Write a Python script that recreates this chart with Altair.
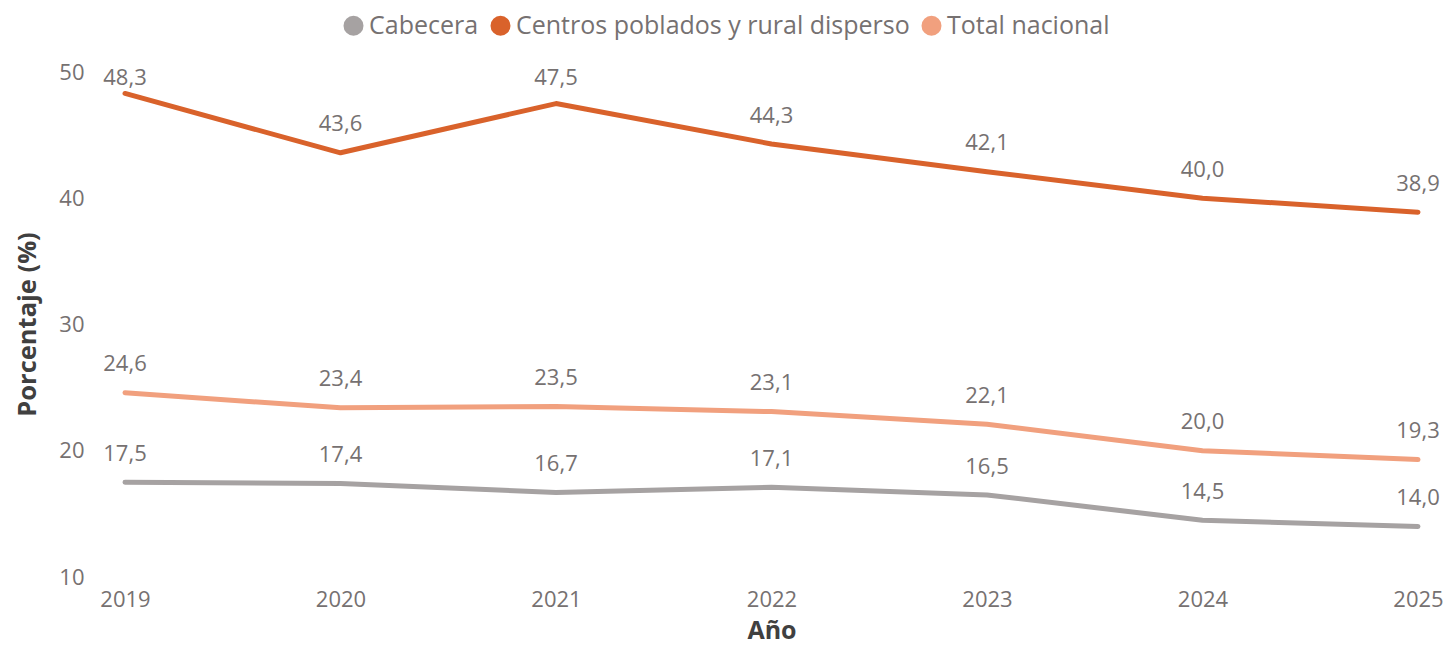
import altair as alt
import pandas as pd

years = [2019, 2020, 2021, 2022, 2023, 2024, 2025]
cabecera = [17.5, 17.4, 16.7, 17.1, 16.5, 14.5, 14.0]
centros = [48.3, 43.6, 47.5, 44.3, 42.1, 40.0, 38.9]
total = [24.6, 23.4, 23.5, 23.1, 22.1, 20.0, 19.3]
series_names = ["Cabecera", "Centros poblados y rural disperso", "Total nacional"]
colors = ["#A6A2A2", "#D9622B", "#F1A07E"]

rows = []
for name, vals in zip(series_names, [cabecera, centros, total]):
    for y, v in zip(years, vals):
        rows.append({"Año": y, "Serie": name, "Valor": v,
                     "Etiqueta": f"{v:.1f}".replace(".", ",")})
df = pd.DataFrame(rows)

FONT = "Open Sans"
TXT = "#767171"

color = alt.Color("Serie:N", scale=alt.Scale(domain=series_names, range=colors),
                  legend=alt.Legend(orient="none", legendX=216, legendY=-59,
                                    direction="horizontal", title=None,
                                    symbolType="circle", symbolSize=100,
                                    symbolStrokeWidth=10, labelFontSize=25,
                                    labelFont=FONT, labelColor=TXT, labelLimit=1000,
                                    labelOffset=3, columnPadding=-4,
                                    symbolOpacity=1))

x = alt.X("Año:Q", scale=alt.Scale(domain=[2019, 2025], nice=False, zero=False),
          axis=alt.Axis(values=years, format="d", domain=False, ticks=False, grid=False,
                        labelFlush=False,
                        labelFontSize=22, labelFont=FONT, labelColor=TXT, labelPadding=12,
                        title="Año", titleFont=FONT, titleFontSize=25, titleFontWeight="bold",
                        titleColor="#404040", titlePadding=8))

y = alt.Y("Valor:Q", scale=alt.Scale(domain=[10, 50], nice=False, zero=False),
          axis=alt.Axis(values=[10, 20, 30, 40, 50], domain=False, ticks=False, grid=False,
                        labelFontSize=22, labelFont=FONT, labelColor=TXT, labelPadding=41,
                        labelFlush=False,
                        title="Porcentaje (%)", titleFont=FONT, titleFontSize=25.5,
                        titleFontWeight="bold", titleColor="#404040",
                        titleX=-98, titleY=252, titleAngle=-90,
                        titleAlign="center", titleBaseline="middle"))

base = alt.Chart(df)

lines = base.mark_line(strokeWidth=5, strokeCap="round", strokeJoin="round").encode(
    x=x, y=y, color=color)

labels = base.transform_calculate(
    ly="min(datum.Valor + 2.25, 49.5)"
).mark_text(font=FONT, fontSize=22, color=TXT, baseline="middle", align="center").encode(
    x=alt.X("Año:Q"), y=alt.Y("ly:Q"), text="Etiqueta:N")

chart = alt.layer(lines, labels).properties(
    width=1293, height=505,
    background="white",
    autosize=alt.AutoSizeParams(type="none"),
    padding={"left": 117, "top": 64, "right": 25, "bottom": 65},
).configure_view(strokeWidth=0, stroke=None)

chart.save("out.html", embed_options={"renderer": "svg", "actions": False})
